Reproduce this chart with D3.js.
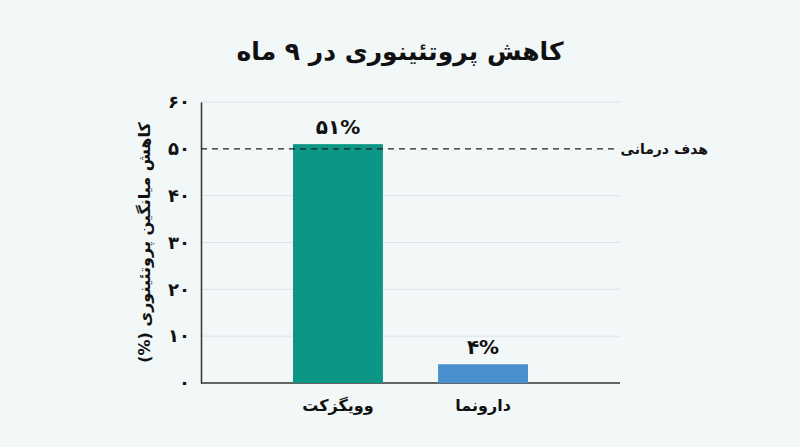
<!DOCTYPE html>
<html lang="fa">
<head>
<meta charset="utf-8">
<script src="https://cdn.jsdelivr.net/npm/d3@7"></script>
<style>
  html, body { margin: 0; padding: 0; background: #f2f7f8; }
  svg { display: block; font-family: 'DejaVu Sans', 'Noto Sans', sans-serif; }
</style>
</head>
<body>
<svg id="chart" width="800" height="447"></svg>
<script>
var categories = ['وویگزکت', 'دارونما'];
var values = [51, 4];
var valueLabels = ['۵۱%', '۴%'];
var barColors = ['#0b9685', '#4a8fcd'];
var yTicks = [0, 10, 20, 30, 40, 50, 60];
var yTickLabels = ['۰', '۱۰', '۲۰', '۳۰', '۴۰', '۵۰', '۶۰'];
var targetValue = 50;
var targetLabel = 'هدف درمانی';
var title = 'کاهش پروتئینوری در ۹ ماه';
var yLabel = 'کاهش میانگین پروتئینوری (%)';

var svg = d3.select('#chart');
var plotLeft = 201, plotRight = 620, plotTop = 102, plotBottom = 383;

var x = d3.scaleBand()
	.domain(categories)
	.range([plotLeft, plotRight])
	.paddingInner(0.38)
	.paddingOuter(0.634);

var y = d3.scaleLinear()
	.domain([0, 60])
	.range([plotBottom, plotTop]);

// title
svg.append('text')
	.attr('x', 400)
	.attr('y', 60)
	.attr('text-anchor', 'middle')
	.attr('direction', 'rtl')
	.attr('font-size', 25)
	.attr('font-weight', 'bold')
	.attr('fill', '#111')
	.text(title);

// gridlines
svg.append('g')
	.selectAll('line')
	.data(yTicks.filter(function(d) { return d > 0 && d !== targetValue; }))
	.enter().append('line')
	.attr('x1', plotLeft)
	.attr('x2', plotRight)
	.attr('y1', function(d) { return y(d); })
	.attr('y2', function(d) { return y(d); })
	.attr('stroke', '#dde2e4')
	.attr('stroke-width', 1);

// y axis
var yAxis = svg.append('g')
	.attr('transform', 'translate(' + plotLeft + ',0)')
	.call(d3.axisLeft(y)
		.tickValues(yTicks)
		.tickSize(0)
		.tickPadding(11)
		.tickFormat(function(d, i) { return yTickLabels[i]; }));
yAxis.select('.domain').attr('stroke', '#333').attr('stroke-width', 1.5);
yAxis.selectAll('text')
	.attr('font-size', 18)
	.attr('font-weight', 'bold')
	.attr('fill', '#111')
	.attr('font-family', "'DejaVu Sans', sans-serif");

// x axis
var xAxis = svg.append('g')
	.attr('transform', 'translate(0,' + plotBottom + ')')
	.call(d3.axisBottom(x).tickSize(0).tickPadding(17));
xAxis.select('.domain')
	.attr('d', 'M' + plotLeft + ',0H' + plotRight)
	.attr('stroke', '#333')
	.attr('stroke-width', 1.5);
xAxis.selectAll('text')
	.attr('font-size', 16)
	.attr('font-weight', 'bold')
	.attr('fill', '#111')
	.attr('direction', 'rtl')
	.attr('font-family', "'DejaVu Sans', sans-serif");

// bars
svg.append('g')
	.selectAll('rect')
	.data(values)
	.enter().append('rect')
	.attr('x', function(d, i) { return x(categories[i]); })
	.attr('y', function(d) { return y(d); })
	.attr('width', x.bandwidth())
	.attr('height', function(d) { return plotBottom - y(d); })
	.attr('fill', function(d, i) { return barColors[i]; });

// target line
svg.append('line')
	.attr('x1', plotLeft)
	.attr('x2', plotRight - 2)
	.attr('y1', y(targetValue))
	.attr('y2', y(targetValue))
	.attr('stroke', '#222')
	.attr('stroke-width', 1.2)
	.attr('stroke-dasharray', '6,5');

svg.append('text')
	.attr('x', plotRight + 88)
	.attr('y', y(targetValue) + 5)
	.attr('direction', 'rtl')
	.attr('text-anchor', 'start')
	.attr('font-size', 14)
	.attr('font-weight', 'bold')
	.attr('fill', '#111')
	.text(targetLabel);

// value labels
svg.append('g')
	.selectAll('text')
	.data(values)
	.enter().append('text')
	.attr('x', function(d, i) { return x(categories[i]) + x.bandwidth() / 2; })
	.attr('y', function(d) { return y(d) - 10; })
	.attr('text-anchor', 'middle')
	.attr('font-size', 20)
	.attr('font-weight', 'bold')
	.attr('fill', '#111')
	.text(function(d, i) { return valueLabels[i]; });

// y label
svg.append('text')
	.attr('transform', 'translate(150,' + ((plotTop + plotBottom) / 2) + ') rotate(-90)')
	.attr('text-anchor', 'middle')
	.attr('direction', 'rtl')
	.attr('font-size', 16)
	.attr('font-weight', 'bold')
	.attr('fill', '#111')
	.text(yLabel);
</script>
</body>
</html>
